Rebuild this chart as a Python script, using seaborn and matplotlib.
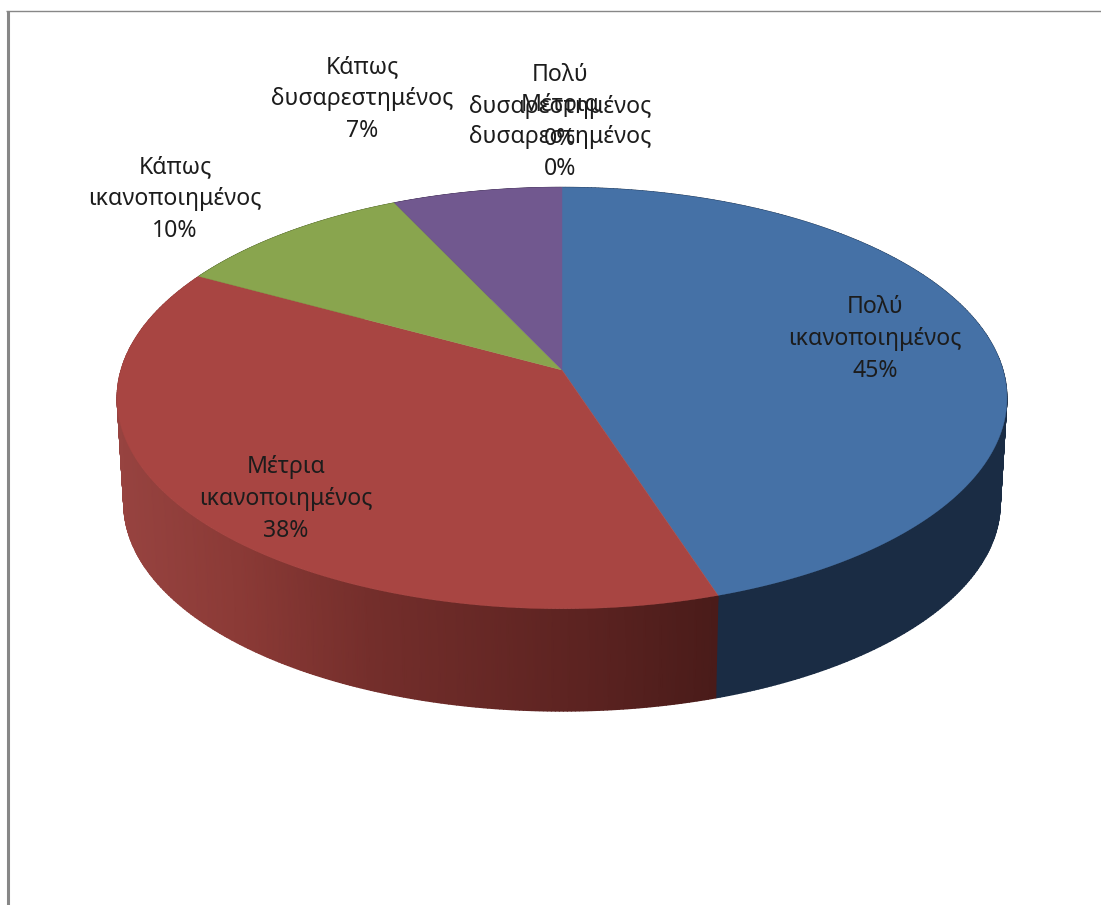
import numpy as np
import matplotlib
matplotlib.use("Agg")
import matplotlib.pyplot as plt
from matplotlib.colors import LinearSegmentedColormap
import seaborn as sns

categories = [
    "Πολύ\nικανοποιημένος",
    "Μέτρια\nικανοποιημένος",
    "Κάπως\nικανοποιημένος",
    "Κάπως\nδυσαρεστημένος",
    "Πολύ\nδυσαρεστημένος",
    "Μέτρια\nδυσαρεστημένος",
]
values = [45, 38, 10, 7, 0, 0]
top_colors = ["#4571A6", "#A84542", "#89A54E", "#71588F", "#4198AF", "#DB843D"]
label_centers = [(875, 339), (286, 499), (175, 199), (362, 99), (560, 107), (560, 137)]

sns.set_theme(style="white")
plt.rcParams["font.family"] = ["Noto Sans", "DejaVu Sans"]

W, H = 1101, 905
fig = plt.figure(figsize=(W / 100, H / 100), dpi=100, facecolor="white")
ax = fig.add_axes([0, 0, 1, 1])

wedges, _ = ax.pie(values, startangle=90, counterclock=False, colors=top_colors, radius=1)
angles = [(w.theta1, w.theta2) for w in wedges]
for w in wedges:
    w.remove()

ax.set_aspect("auto")
ax.set_xlim(0, W)
ax.set_ylim(H, 0)
ax.axis("off")

CX, CY = 562.0, 370.0
A, B, K = 441.0, 207.0, 0.133
SCALE, DROP = 0.985, 106.0


def project(theta_deg, depth=False):
    t = np.radians(theta_deg)
    x, y = np.cos(t), np.sin(t)
    d = 1 + K * y
    X, Y = A * x / d, B * y / d
    if depth:
        X, Y = X * SCALE, Y * SCALE - DROP
    return CX + X, CY - Y


red_wall = LinearSegmentedColormap.from_list(
    "red_wall", [(0.0, "#974340"), (0.2, "#8B3A36"), (0.42, "#742E2B"), (0.8, "#5A2220"), (1.0, "#491B19")]
)
blue_wall = LinearSegmentedColormap.from_list("blue_wall", ["#1B2D46", "#1A2C44"])
green_wall = LinearSegmentedColormap.from_list("green_wall", ["#566832", "#566832"])
purple_wall = LinearSegmentedColormap.from_list("purple_wall", ["#463658", "#463658"])
wall_maps = [blue_wall, red_wall, green_wall, purple_wall, blue_wall, blue_wall]

# side walls, smoothly shaded along the rim
for (t1, t2), cmap in zip(angles, wall_maps):
    if abs(t2 - t1) < 1e-6:
        continue
    seg = np.linspace(t1, t2, 300)
    xt, yt = project(seg)
    xb, yb = project(seg, depth=True)
    MX = np.vstack([xt, xb])
    MY = np.vstack([yt, yb])
    frac = np.clip((MX[0] - 116) / (723 - 116), 0, 1)
    ax.pcolormesh(MX, MY, np.vstack([frac, frac]), cmap=cmap, vmin=0, vmax=1,
                  shading="gouraud", zorder=2)
ax.set_xlim(0, W)
ax.set_ylim(H, 0)

# top face
for (t1, t2), col in zip(angles, top_colors):
    if abs(t2 - t1) < 1e-6:
        continue
    seg = np.linspace(t1, t2, 400)
    xt, yt = project(seg)
    ax.fill(np.r_[CX, xt], np.r_[CY, yt], color=col, lw=0.3, zorder=3)

# labels
for name, v, (lx, ly) in zip(categories, values, label_centers):
    ax.text(lx, ly, f"{name}\n{v}%", ha="center", va="center", fontsize=16.6,
            color="#1c1c1c", linespacing=1.42, zorder=5)

# frame fragments
ax.plot([6, W], [11.5, 11.5], color="#878787", lw=1.0, solid_capstyle="butt", zorder=6)
ax.plot([7.5, 7.5], [11, H], color="#878787", lw=2.2, solid_capstyle="butt", zorder=6)

fig.savefig("out.png", dpi=100, facecolor="white")
